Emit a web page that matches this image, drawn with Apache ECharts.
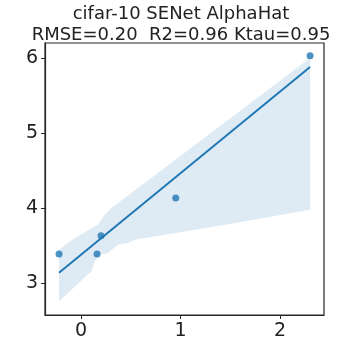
<!DOCTYPE html>
<html>
<head>
<meta charset="utf-8">
<script src="https://cdn.jsdelivr.net/npm/echarts@6/dist/echarts.min.js"></script>
<style>
  html, body { margin: 0; padding: 0; background: #fff; }
  #chart { width: 360px; height: 360px; }
</style>
</head>
<body>
<div id="chart"></div>
<script>
// scatter points
var pointX = [-0.221, 0.161, 0.201, 0.952, 2.302];
var pointY = [3.387, 3.387, 3.631, 4.133, 6.03];

// fitted line end points
var lineX = [-0.221, 2.302];
var lineY = [3.137, 5.88];

// confidence band edges
var upperX = [-0.221, -0.063, 0.171, 0.238, 0.306, 2.302];
var upperY = [3.444, 3.6, 3.777, 3.911, 4.0, 6.0];
var lowerX = [-0.221, 0.105, 0.138, 0.188, 0.271, 0.372, 0.472, 0.54, 1.494, 2.302];
var lowerY = [2.755, 3.155, 3.288, 3.377, 3.4, 3.511, 3.533, 3.577, 3.787, 3.977];

var xTicks = [0, 1, 2];
var yTicks = [3, 4, 5, 6];

var textColor = '#222';
var axisColor = '#262626';

var chart = echarts.init(document.getElementById('chart'));

var option = {
  animation: false,
  title: {
    text: 'cifar-10 SENet AlphaHat\nRMSE=0.20  R2=0.96 Ktau=0.95',
    left: 176,
    top: -1,
    textAlign: 'center',
    textStyle: {
      fontFamily: 'DejaVu Sans',
      fontSize: 18,
      fontWeight: 'normal',
      lineHeight: 21,
      color: textColor
    }
  },
  grid: {
    left: 45, right: 36, top: 43, bottom: 45,
    show: true,
    borderColor: axisColor,
    borderWidth: 1.2,
    outerBoundsMode: 'none'
  },
  xAxis: {
    type: 'value',
    min: -0.362,
    max: 2.442,
    splitLine: { show: false },
    axisLine: { onZero: false, lineStyle: { color: axisColor, width: 1.2 } },
    axisTick: { show: true, length: 4, customValues: xTicks, lineStyle: { color: axisColor } },
    axisLabel: {
      customValues: xTicks,
      margin: 7,
      fontFamily: 'DejaVu Sans',
      fontSize: 19,
      color: textColor
    }
  },
  yAxis: {
    type: 'value',
    min: 2.573,
    max: 6.2,
    splitLine: { show: false },
    axisLine: { show: true, onZero: false, lineStyle: { color: axisColor, width: 1.2 } },
    axisTick: { show: true, length: 4, customValues: yTicks, lineStyle: { color: axisColor } },
    axisLabel: {
      customValues: yTicks,
      margin: 7,
      fontFamily: 'DejaVu Sans',
      fontSize: 19,
      color: textColor
    }
  },
  series: [
    {
      // confidence band as one polygon
      type: 'custom',
      z: 1,
      silent: true,
      data: [[0, 0]],
      renderItem: function (params, api) {
        var pts = [];
        for (var i = 0; i < upperX.length; i++) {
          pts.push(api.coord([upperX[i], upperY[i]]));
        }
        for (var j = lowerX.length - 1; j >= 0; j--) {
          pts.push(api.coord([lowerX[j], lowerY[j]]));
        }
        return {
          type: 'polygon',
          shape: { points: pts },
          style: { fill: '#1f77b4', opacity: 0.15 }
        };
      }
    },
    {
      type: 'line',
      z: 2,
      data: lineX.map(function (x, i) { return [x, lineY[i]]; }),
      showSymbol: false,
      lineStyle: { color: '#1f77b4', width: 2 }
    },
    {
      type: 'scatter',
      z: 3,
      data: pointX.map(function (x, i) { return [x, pointY[i]]; }),
      symbolSize: 7,
      itemStyle: { color: '#1f77b4', opacity: 0.8 }
    }
  ]
};

chart.setOption(option);
</script>
</body>
</html>
